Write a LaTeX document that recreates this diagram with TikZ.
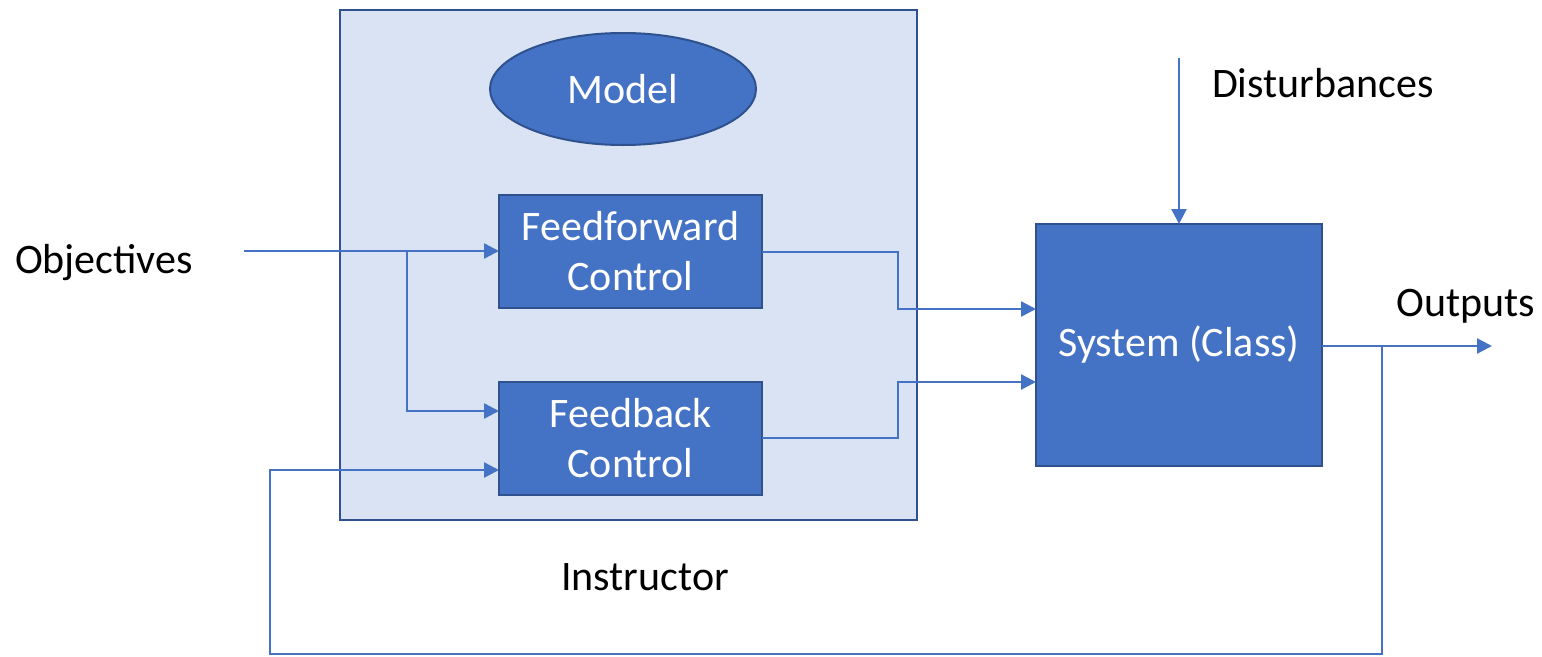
\documentclass[tikz,border=0pt]{standalone}
\usepackage{fontspec}
\setmainfont{Carlito}
\usetikzlibrary{arrows.meta,shapes.geometric}
\definecolor{boxblue}{HTML}{4472C4}
\definecolor{edgeblue}{HTML}{2F528F}
\definecolor{paleblue}{HTML}{DAE3F3}
\begin{document}
\begin{tikzpicture}[x=1pt,y=-1pt,
  every node/.style={font=\fontsize{42}{50}\selectfont, inner sep=0pt, outer sep=0pt},
  panel/.style={draw=edgeblue, line width=2.5pt, fill=paleblue, minimum width=577pt, minimum height=510pt},
  block/.style={draw=edgeblue, line width=2.5pt, fill=boxblue, text=white, align=center},
  oval/.style={ellipse, draw=edgeblue, line width=2pt, fill=boxblue, text=white, minimum width=266pt, minimum height=112pt},
  label/.style={text=black},
  wire/.style={draw=boxblue, line width=2.5pt},
  flow/.style={wire, -{Triangle[length=15pt,width=15pt]}}
]
\useasboundingbox (0,0) rectangle (1542,656);

% instructor panel and its contents
\node[panel] (instr) at (628.5,265) {};
\node[oval] (model) at (623,89) {Model};
\node[block, minimum width=263pt, minimum height=113pt] (ff) at (630.5,251.5) {Feedforward\\Control};
\node[block, minimum width=263pt, minimum height=113pt] (fb) at (630.5,438.5) {Feedback\\Control};
\node[label] (instrlbl) at (645,577) {Instructor};

% plant
\node[block, minimum width=286pt, minimum height=242pt] (sys) at (1179,345) {System (Class)};

% outside labels
\node[label, anchor=west] (obj) at (15,263) {Objectives};
\node[label, anchor=west] (dist) at (1212,83) {Disturbances};
\node[label] (outlbl) at (1466,306) {Outputs};

% connector ends
\coordinate (objin) at (244,251);
\coordinate (split) at (407,251);
\coordinate (fbref) at (499,411);
\coordinate (fbmeas) at (499,470);
\coordinate (distin) at (1179,58);
\coordinate (outend) at (1492,346);
\coordinate (tap) at (1382,346);
\coordinate (loopR) at (1382,654);
\coordinate (loopL) at (270,654);
\coordinate (ffout) at (762,252);
\coordinate (fbout) at (762,438);
\coordinate (sysff) at (1036,309);
\coordinate (sysfb) at (1036,382);

% objectives to both controllers
\draw[flow] (objin) -- (ff.west |- objin);
\draw[flow] (split) |- (fbref);

% controllers to the system
\draw[flow] (ffout) -| (898,309) -- (sysff);
\draw[flow] (fbout) -| (898,382) -- (sysfb);

% disturbances and outputs
\draw[flow] (distin) -- (sys.north);
\draw[flow] (sys.east |- outend) -- (outend);

% feedback loop
\draw[flow] (tap) -- (loopR) -- (loopL) -- (270,470) -- (fbmeas);
\end{tikzpicture}
\end{document}
